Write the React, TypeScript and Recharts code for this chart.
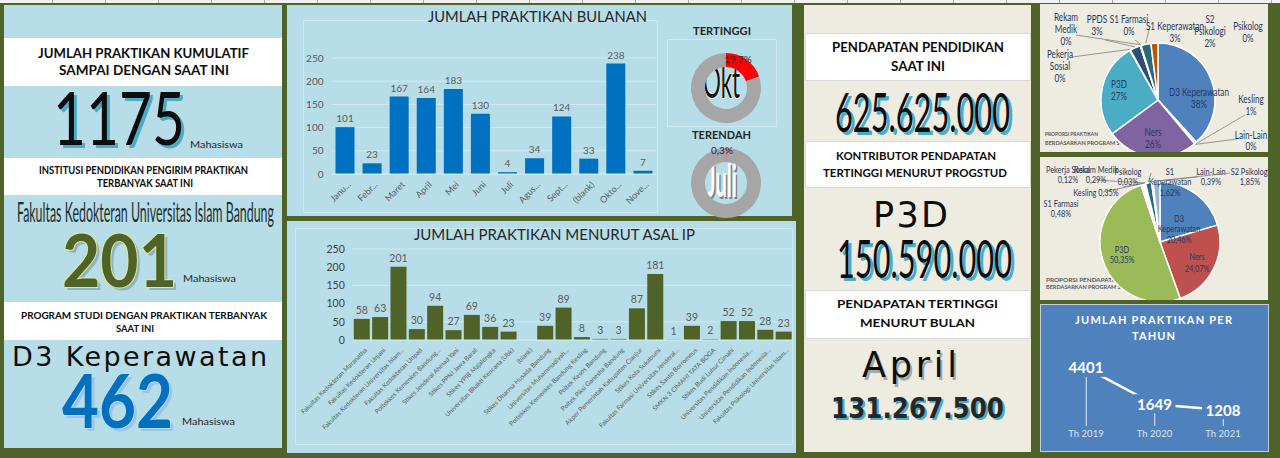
import React from 'react';
import {
  BarChart, Bar, XAxis, YAxis, CartesianGrid, LabelList,
  PieChart, Pie, Cell, ComposedChart, Line,
} from 'recharts';

// ---------- data ----------
const MONTHS = ['Janu...', 'Febr...', 'Maret', 'April', 'Mei', 'Juni', 'Juli', 'Agus...', 'Sept...', '(blank)', 'Okto...', 'Nove...'];
const MONTH_COUNTS = [101, 23, 167, 164, 183, 130, 4, 34, 124, 33, 238, 7];
const COUNT_TICKS = [0, 50, 100, 150, 200, 250];

const INSTITUTIONS = [
  'Fakultas Kedokteran Maranatha',
  'Fakultas Kedokteran Unjani',
  'Fakultas Kedokteran Universitas Islam...',
  'Fakultas Kedokteran Unpad',
  'Poltekkes Kemenkes Bandung...',
  'Stikes Jenderal Ahmad Yani',
  'Stikes PPNI Jawa Barat',
  'Stikes YPIB Majalengka',
  'Universitas Bhakti Kencana (Ubk)',
  '(blank)',
  'Stikes Dharma Husada Bandung',
  'Universitas Muhammadiyah...',
  'Poltekkes Kemenkes Bandung Kesling',
  'Poltek Kesos Bandung',
  'Poltek Piksi Ganesha Bandung',
  'Akper Pemerintah Kabupaten Cianjur',
  'Stikes Kota Sukabumi',
  'Fakultas Farmasi Universitas Jenderal...',
  'Stikes Santo Borromeus',
  'SMKN 3 CIMAHI TATA BOGA',
  'Stikes Budi Luhur Cimahi',
  'Universitas Pendidikan Indonesia...',
  'Universitas Pendidikan Indonesia...',
  'Fakultas Psikologi Universitas Islam...',
];
const INSTITUTION_COUNTS = [58, 63, 201, 30, 94, 27, 69, 36, 23, null, 39, 89, 8, 3, 3, 87, 181, 1, 39, 2, 52, 52, 28, 23];

const PRODI_PRAKTIKAN = ['D3 Keperawatan', 'Kesling', 'Lain-Lain', 'Ners', 'P3D', 'Pekerja Sosial', 'PPDS', 'Psikolog', 'Rekam Medik', 'S1 Farmasi', 'S1 Keperawatan', 'S2 Psikologi'];
const PRODI_PRAKTIKAN_COUNTS = [462, 7, 1, 314, 325, 2, 36, 1, 1, 1, 34, 24];

const PRODI_PENDAPATAN = ['D3 Keperawatan', 'Ners', 'P3D', 'S1 Farmasi', 'Kesling', 'Pekerja Sosial', 'Rekam Medik', 'Psikolog', 'S1 Keperawatan', 'Lain-Lain', 'S2 Psikologi'];
const PRODI_PENDAPATAN_PCT = [20.46, 24.07, 50.35, 0.48, 0.35, 0.12, 0.29, 0.03, 1.62, 0.39, 1.85];

const YEARS = ['Th 2019', 'Th 2020', 'Th 2021'];
const YEAR_COUNTS = [4401, 1649, 1208];

// ---------- styling ----------
const GREEN = '#4f6228';
const LIGHT_BLUE = '#b7dee8';
const BEIGE = '#eeece1';
const GRID = '#d0e9f0';
const FONT = 'Lato, "Open Sans", sans-serif';
const DEJAVU = '"DejaVu Sans", sans-serif';
const LABEL_NAVY = '#1f3864';

const PIE1_COLORS = ['#4f81bd', '#c0504d', '#9bbb59', '#8064a2', '#4bacc6', '#f79646', '#2c4d75', '#772c2a', '#5f7530', '#4d3b62', '#276a7c', '#b65708'];
const PIE2_COLORS = ['#4f81bd', '#c0504d', '#9bbb59', '#8064a2', '#4bacc6', '#f79646', '#2c4d75', '#772c2a', '#276a7c', '#4d3b62', '#95b3d7'];

// label text breaks and placement (relative to pie centre)
const PIE1_LINES = [['D3 Keperawatan'], ['Kesling'], ['Lain-Lain'], ['Ners'], ['P3D'], ['Pekerja', 'Sosial'], ['PPDS'], ['Psikolog'], ['Rekam', 'Medik'], ['S1 Farmasi'], ['S1 Keperawatan'], ['S2', 'Psikologi']];
const PIE1_PLACE: any[] = [
  { dx: 41, dy: -4 },
  { dx: 93, dy: 3, lx: 87, ly: 15 },
  { dx: 93, dy: 39, lh: 11, lx: 79, ly: 39 },
  { dx: -5, dy: 36 },
  { dx: -39, dy: -12 },
  { dx: -98, dy: -42, lx: -86, ly: -43 },
  { dx: -61, dy: -77, lx: -53, ly: -60 },
  { dx: 90, dy: -70 },
  { dx: -92, dy: -79, lx: -82, ly: -65 },
  { dx: -29, dy: -77, lx: -23, ly: -60 },
  { dx: 17, dy: -70, lx: -8, ly: -74 },
  { dx: 52, dy: -77 },
];
const PIE2_LINES = [['D3', 'Keperawatan'], ['Ners'], ['P3D'], ['S1 Farmasi'], ['Kesling'], ['Pekerja Sosial'], ['Rekam Medik'], ['Psikolog'], ['S1', 'Keperawatan'], ['Lain-Lain'], ['S2 Psikologi']];
const PIE2_PLACE: any[] = [
  { dx: 19, dy: -20 },
  { dx: 37, dy: 18, lh: 12 },
  { dx: -38, dy: 11 },
  { dx: -99, dy: -35 },
  { dx: -64, dy: -46, inline: true, lx: -57, ly: -50 },
  { dx: -92, dy: -69 },
  { dx: -64, dy: -69, lx: -65, ly: -62 },
  { dx: -32, dy: -67, lx: -37, ly: -55 },
  { dx: 10, dy: -67, lx: -9, ly: -69 },
  { dx: 51, dy: -67, lx: 37, ly: -65 },
  { dx: 90, dy: -67, lx: 70, ly: -69 },
];

const monthData = MONTHS.map((m, i) => ({ month: m, count: MONTH_COUNTS[i] }));
const instData = INSTITUTIONS.map((n, i) => ({ name: n, count: INSTITUTION_COUNTS[i] }));
const pie1Total = PRODI_PRAKTIKAN_COUNTS.reduce((a, b) => a + b, 0);
const pie1Data = PRODI_PRAKTIKAN.map((n, i) => ({ name: n, value: PRODI_PRAKTIKAN_COUNTS[i] }));
const pie1Pct = PRODI_PRAKTIKAN_COUNTS.map(v => Math.round((v / pie1Total) * 100) + '%');
const pie2Data = PRODI_PENDAPATAN.map((n, i) => ({ name: n, value: PRODI_PENDAPATAN_PCT[i] }));
const pie2Pct = PRODI_PENDAPATAN_PCT.map(v => v.toFixed(2).replace('.', ',') + '%');
const yearData = YEARS.map((y, i) => ({ year: y, count: YEAR_COUNTS[i] }));

const monthTotal = MONTH_COUNTS.reduce((a, b) => a + b, 0);
const maxMonth = Math.max(...MONTH_COUNTS);
const minMonth = Math.min(...MONTH_COUNTS);
const fmtPct = (v: number) => ((v / monthTotal) * 100).toFixed(1).replace('.', ',') + '%';

const RAD = Math.PI / 180;

function makePieLabel(lines: string[][], place: any[], pcts: string[], fs: number, lh: number) {
  return (p: any) => {
    const i = p.index;
    const pl = place[i];
    const ax = p.cx + pl.dx;
    const ay = p.cy + pl.dy;
    const txt = pl.inline ? [lines[i].join(' ') + ' ' + pcts[i]] : [...lines[i], pcts[i]];
    const step = pl.lh ?? lh;
    let leader = null;
    if (pl.lx !== undefined) {
      const r = p.outerRadius + 1;
      const sx = p.cx + r * Math.cos(-p.midAngle * RAD);
      const sy = p.cy + r * Math.sin(-p.midAngle * RAD);
      leader = <line x1={sx} y1={sy} x2={p.cx + pl.lx} y2={p.cy + pl.ly} stroke="#7f7f7f" strokeWidth={0.8} />;
    }
    return (
      <g key={'l' + i}>
        {leader}
        <text transform={`translate(${ax} ${ay}) scale(0.74 1)`} textAnchor="middle" fontSize={fs} fill={LABEL_NAVY} fontFamily={FONT}>
          {txt.map((t, k) => <tspan key={k} x={0} y={k * step}>{t}</tspan>)}
        </text>
      </g>
    );
  };
}

const SlantTick = (props: any) => {
  const { x, y, payload, fs } = props;
  return (
    <text x={0} y={0} transform={`translate(${x + 4},${y + 1}) rotate(-45)`} textAnchor="end"
      fontSize={fs} fill="#595959" dy={fs * 0.35}>{payload.value}</text>
  );
};

const YearTick = (props: any) => (
  <text x={props.x} y={props.y + 3} textAnchor="middle" fontSize={9.5} fill="#dce6f2">{props.payload.value}</text>
);

const YearLabel = (props: any) => {
  const { x, y, value } = props;
  return (
    <g>
      <rect x={x - 21} y={y - 10} width={42} height={19} fill="#4f81bd" />
      <text x={x} y={y + 5.5} textAnchor="middle" fill="#fff" fontWeight={700} fontSize={15}>{value}</text>
    </g>
  );
};

// svg text helper
function Txt(p: any) {
  const common: any = {
    fontSize: p.size,
    fontFamily: p.family ?? FONT,
    fontWeight: p.weight ?? 400,
  };
  if (p.w) { common.textLength = p.w; common.lengthAdjust = p.adjust ?? 'spacingAndGlyphs'; }
  return (
    <g>
      {p.shadow && <text x={p.x + (p.sdx ?? 3)} y={p.y + (p.sdy ?? 3)} fill={p.shadow} {...common}>{p.t}</text>}
      <text x={p.x} y={p.y} fill={p.fill ?? '#262626'} stroke={p.stroke} strokeWidth={p.sw} paintOrder="stroke" {...common}>{p.t}</text>
    </g>
  );
}

const box = (l: number, t: number, w: number, h: number, bg: string, extra: any = {}) => (
  <div style={{ position: 'absolute', left: l, top: t, width: w, height: h, background: bg, boxSizing: 'border-box', ...extra }} />
);

export default function App() {
  return (
    <div style={{ position: 'fixed', left: 0, top: 0, width: 1280, height: 458, overflow: 'hidden', background: GREEN, fontFamily: FONT }}>
      {/* sheet header strip */}
      {box(0, 0, 1280, 3, 'repeating-linear-gradient(90deg, #f2f2f2 0 52px, #a6a6a6 52px 53px)')}

      {/* left panel */}
      {box(4, 5, 278, 443, LIGHT_BLUE)}
      {box(4, 38, 278, 48, '#fff')}
      {box(4, 158, 278, 37, '#fff')}
      {box(4, 302, 278, 38, '#fff')}

      {/* middle panels */}
      {box(287, 5, 505, 211, LIGHT_BLUE)}
      {box(303, 20, 355, 193, 'transparent', { border: '1px solid #cde8ef' })}
      {box(667, 39, 110, 88, 'transparent', { border: '1px solid #cde8ef' })}
      {box(287, 221, 509, 232, LIGHT_BLUE)}
      {box(295, 228, 498, 217, 'transparent', { border: '1px solid #cde8ef' })}

      {/* revenue panel */}
      {box(804, 5, 227, 447, BEIGE)}
      {box(805, 33, 226, 48, '#fff', { border: '1px solid #d9d9d9' })}
      {box(805, 141, 226, 47, '#fff', { border: '1px solid #d9d9d9' })}
      {box(805, 290, 226, 49, '#fff', { border: '1px solid #d9d9d9' })}

      {/* right panels */}
      {box(1040, 4, 228, 148, BEIGE)}
      {box(1040, 157, 228, 143, BEIGE)}
      {box(1040, 304, 229, 148, '#4f81bd', { border: '1px solid #c4cfdc' })}

      <svg width={1280} height={458} style={{ position: 'absolute', left: 0, top: 0 }}>
        {/* left panel */}
        <Txt x={38} y={58} w={211} size={13} weight={700} t="JUMLAH PRAKTIKAN KUMULATIF" fill="#0d0d0d" />
        <Txt x={59} y={75} w={170} size={13} weight={700} t="SAMPAI DENGAN SAAT INI" fill="#0d0d0d" />
        <Txt x={53} y={145} w={132} size={74} t="1175" fill="#0d0d0d" shadow="#4bacc6" />
        <Txt x={190} y={148} w={53} size={10} t="Mahasiswa" />
        <Txt x={39} y={174} w={209} size={10.5} weight={700} t="INSTITUSI PENDIDIKAN PENGIRIM PRAKTIKAN" fill="#0d0d0d" />
        <Txt x={97} y={187} w={96} size={10.5} weight={700} t="TERBANYAK SAAT INI" fill="#0d0d0d" />
        <Txt x={17} y={222} w={257} size={26} t="Fakultas Kedokteran Universitas Islam Bandung" fill="#1e2d30" />
        <Txt x={62} y={287} w={115} size={72} weight={700} t="201" fill={GREEN} stroke="#e2ec8a" sw={2} shadow="#8fb3bf" />
        <Txt x={183} y={282} w={53} size={10} t="Mahasiswa" />
        <Txt x={21} y={319} w={246} size={10} weight={700} t="PROGRAM STUDI DENGAN PRAKTIKAN TERBANYAK" fill="#0d0d0d" />
        <Txt x={116} y={332} w={38} size={10} weight={700} t="SAAT INI" fill="#0d0d0d" />
        <Txt x={12} y={366} w={255} size={27} t="D3 Keperawatan" family={DEJAVU} adjust="spacing" fill="#0d0d0d" />
        <Txt x={62} y={428} w={111} size={74} weight={700} t="462" fill="#0070c0" stroke="#c6e0f5" sw={1.5} shadow="#9dc3e6" />
        <Txt x={182} y={425} w={53} size={10} t="Mahasiswa" />

        {/* monthly panel */}
        <Txt x={428} y={22} w={219} size={15} t="JUMLAH PRAKTIKAN BULANAN" />
        <Txt x={693} y={35} w={58} size={11} weight={700} t="TERTINGGI" />
        <Txt x={703} y={98} w={37} size={46} t="Okt" fill="#111" stroke="#fff" sw={1.5} />
        <Txt x={692} y={139} w={59} size={11} weight={700} t="TERENDAH" />
        <Txt x={707} y={197} w={30} size={45} weight={700} t="Juli" fill="#fff" shadow="#808080" sdx={1.5} sdy={1.5} />

        {/* asal ip panel */}
        <Txt x={414} y={240} w={281} size={16} t="JUMLAH PRAKTIKAN MENURUT ASAL IP" />

        {/* revenue panel */}
        <Txt x={832} y={52} w={172} size={13} weight={700} t="PENDAPATAN PENDIDIKAN" fill="#0d0d0d" />
        <Txt x={891} y={71} w={54} size={13} weight={700} t="SAAT INI" fill="#0d0d0d" />
        <Txt x={835} y={132} w={175} size={54} t="625.625.000" fill="#0d0d0d" shadow="#4bacc6" />
        <Txt x={836} y={160} w={160} size={11} weight={700} t="KONTRIBUTOR PENDAPATAN" fill="#0d0d0d" />
        <Txt x={823} y={177} w={184} size={11} weight={700} t="TERTINGGI MENURUT PROGSTUD" fill="#0d0d0d" />
        <Txt x={873} y={227} w={75} size={35} t="P3D" family={DEJAVU} adjust="spacing" fill="#0d0d0d" />
        <Txt x={837} y={278} w={175} size={53} t="150.590.000" fill="#0d0d0d" shadow="#4bacc6" />
        <Txt x={837} y={308} w={161} size={12} weight={700} t="PENDAPATAN TERTINGGI" fill="#0d0d0d" />
        <Txt x={860} y={327} w={115} size={12} weight={700} t="MENURUT BULAN" fill="#0d0d0d" />
        <Txt x={862} y={377} w={95} size={35} t="April" family={DEJAVU} adjust="spacing" fill="#0d0d0d" shadow="#a6a6a6" sdx={2} sdy={3} />
        <Txt x={831} y={418} w={173} size={29} weight={700} t="131.267.500" family={DEJAVU} fill="#262626" shadow="#4bacc6" sdx={2} sdy={2} />

        {/* pie panel captions */}
        <Txt x={1045} y={136} w={53} size={5.5} weight={700} t="PROPORSI PRAKTIKAN" fill="#595959" />
        <Txt x={1045} y={145} w={88} size={5.5} weight={700} t="BERDASARKAN PROGRAM STUDI" fill="#595959" />
        <Txt x={1046} y={282} w={75} size={5.5} weight={700} t="PROPORSI PENDAPATAN" fill="#595959" />
        <Txt x={1046} y={289} w={88} size={5.5} weight={700} t="BERDASARKAN PROGRAM STUDI" fill="#595959" />

        {/* yearly panel */}
        <Txt x={1075} y={324} w={157} size={11} weight={700} t="JUMLAH PRAKTIKAN PER" fill="#fff" adjust="spacing" />
        <Txt x={1132} y={340} w={43} size={11} weight={700} t="TAHUN" fill="#fff" adjust="spacing" />
      </svg>

      {/* monthly bar chart */}
      <div style={{ position: 'absolute', left: 288, top: 5 }}>
        <BarChart width={372} height={211} data={monthData} margin={{ top: 53, right: 3.5, bottom: 2, left: 3.5 }}>
          <CartesianGrid vertical={false} stroke={GRID} />
          <XAxis dataKey="month" interval={0} height={40} axisLine={{ stroke: GRID }} tickLine={false}
            tick={(p: any) => <SlantTick {...p} fs={9} />} />
          <YAxis width={40} domain={[0, 250]} ticks={COUNT_TICKS} axisLine={false} tickLine={false}
            tick={{ fill: '#595959', fontSize: 10 }} />
          <Bar dataKey="count" fill="#0070c0" barSize={19} isAnimationActive={false}>
            <LabelList dataKey="count" position="top" offset={5} fill="#595959" fontSize={10} />
          </Bar>
        </BarChart>
      </div>

      {/* gauges */}
      <div style={{ position: 'absolute', left: 667, top: 39 }}>
        <PieChart width={110} height={180}>
          <Pie data={[{ v: maxMonth }, { v: monthTotal - maxMonth }]} dataKey="v" cx={54} cy={44} innerRadius={21} outerRadius={35}
            startAngle={90} endAngle={-270} stroke="none" isAnimationActive={false}>
            <Cell fill="#ff0000" />
            <Cell fill="#a6a6a6" />
          </Pie>
          <Pie data={[{ v: minMonth }, { v: monthTotal - minMonth }]} dataKey="v" cx={54} cy={139} innerRadius={21} outerRadius={35}
            startAngle={90} endAngle={-270} stroke="none" isAnimationActive={false}>
            <Cell fill="#ff0000" />
            <Cell fill="#a6a6a6" />
          </Pie>
        </PieChart>
      </div>
      <svg width={110} height={180} style={{ position: 'absolute', left: 667, top: 39 }}>
        <text x={71} y={24} textAnchor="middle" fontSize={10} fill="#262626">{fmtPct(maxMonth)}</text>
        <text x={55} y={115} textAnchor="middle" fontSize={10} fill="#262626">{fmtPct(minMonth)}</text>
      </svg>

      {/* asal ip bar chart */}
      <div style={{ position: 'absolute', left: 288, top: 222 }}>
        <BarChart width={508} height={228} data={instData} margin={{ top: 27, right: 3, bottom: 2, left: 24.8 }}>
          <CartesianGrid vertical={false} stroke={GRID} />
          <XAxis dataKey="name" interval={0} height={108} axisLine={{ stroke: GRID }} tickLine={false}
            tick={(p: any) => <SlantTick {...p} fs={6.5} />} />
          <YAxis width={40} domain={[0, 250]} ticks={COUNT_TICKS} axisLine={false} tickLine={false}
            tick={{ fill: '#404040', fontSize: 10.5 }} />
          <Bar dataKey="count" fill={GREEN} barSize={16} isAnimationActive={false}>
            <LabelList dataKey="count" position="top" offset={5} fill="#595959" fontSize={10.5} />
          </Bar>
        </BarChart>
      </div>

      {/* pie: proporsi praktikan */}
      <div style={{ position: 'absolute', left: 1040, top: 4 }}>
        <PieChart width={228} height={148}>
          <Pie data={pie1Data} dataKey="value" cx={113} cy={91} outerRadius={57} startAngle={90} endAngle={-270}
            stroke="#fff" strokeWidth={1.5} labelLine={false}
            label={makePieLabel(PIE1_LINES, PIE1_PLACE, pie1Pct, 11, 12)} isAnimationActive={false}>
            {pie1Data.map((_, i) => <Cell key={i} fill={PIE1_COLORS[i]} />)}
          </Pie>
        </PieChart>
      </div>

      {/* pie: proporsi pendapatan */}
      <div style={{ position: 'absolute', left: 1040, top: 157 }}>
        <PieChart width={228} height={143}>
          <Pie data={pie2Data} dataKey="value" cx={115} cy={80} outerRadius={60} startAngle={90} endAngle={-270}
            stroke="#fff" strokeWidth={1.5} labelLine={false}
            label={makePieLabel(PIE2_LINES, PIE2_PLACE, pie2Pct, 10, 10.5)} isAnimationActive={false}>
            {pie2Data.map((_, i) => <Cell key={i} fill={PIE2_COLORS[i]} />)}
          </Pie>
        </PieChart>
      </div>

      {/* yearly line */}
      <div style={{ position: 'absolute', left: 1040, top: 304 }}>
        <ComposedChart width={229} height={148} data={yearData} margin={{ top: 56, right: 11.75, bottom: 6, left: 11.75 }}>
          <XAxis dataKey="year" height={20} axisLine={false} tickLine={false} tick={(p: any) => <YearTick {...p} />} />
          <YAxis hide domain={[0, 5000]} />
          <Bar dataKey="count" barSize={1} fill="#ffffff" fillOpacity={0.85} isAnimationActive={false} />
          <Line dataKey="count" stroke="#ffffff" strokeWidth={2.5} dot={false} isAnimationActive={false}>
            <LabelList dataKey="count" content={(p: any) => <YearLabel {...p} />} />
          </Line>
        </ComposedChart>
      </div>
    </div>
  );
}
